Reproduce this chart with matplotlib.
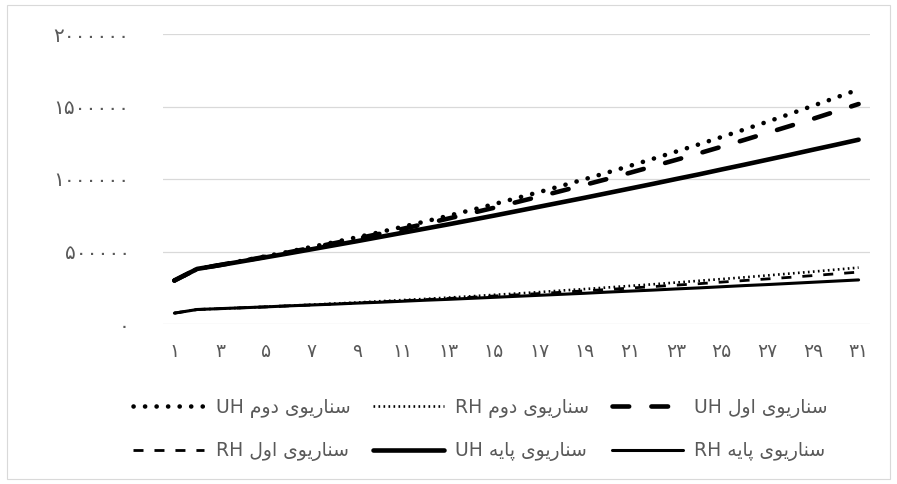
import matplotlib
matplotlib.use("Agg")
import matplotlib.pyplot as plt
from matplotlib.patches import Rectangle

plt.rcParams['font.family'] = ['DejaVu Sans']
plt.rcParams['lines.scale_dashes'] = False

# ---------------- data ----------------
years = list(range(1, 32))
x_tick_pos = list(range(1, 32, 2))
x_tick_labels = ["۱", "۳", "۵", "۷", "۹", "۱۱", "۱۳", "۱۵", "۱۷", "۱۹", "۲۱",
                 "۲۳", "۲۵", "۲۷", "۲۹", "۳۱"]
y_ticks = [0, 500000, 1000000, 1500000, 2000000]
y_tick_labels = ["۰", "۵۰۰۰۰۰", "۱۰۰۰۰۰۰", "۱۵۰۰۰۰۰", "۲۰۰۰۰۰۰"]

uh_base = [300, 380, 406, 433, 460, 487, 515, 543, 571, 600, 629, 658, 687, 717, 747, 778,
           809, 840, 871, 903, 935, 967, 1000, 1032, 1066, 1099, 1133, 1167, 1202, 1236, 1271]
uh_s1 = [300, 380, 407, 435, 464, 494, 525, 557, 589, 622, 656, 691, 727, 764, 801, 840,
         879, 919, 960, 1001, 1044, 1088, 1132, 1177, 1223, 1270, 1318, 1366, 1415, 1466, 1517]
uh_s2 = [300, 380, 408, 437, 467, 498, 531, 564, 598, 633, 670, 707, 746, 785, 826, 868,
         910, 954, 999, 1045, 1092, 1140, 1189, 1239, 1290, 1342, 1395, 1449, 1505, 1561, 1618]
rh_base = [75, 100, 106, 112, 118, 125, 131, 137, 144, 150, 157, 164, 170, 177, 184, 191,
           198, 205, 212, 220, 227, 234, 242, 249, 257, 265, 272, 280, 288, 296, 304]
rh_s1 = [75, 100, 106, 112, 118, 125, 131, 138, 145, 153, 160, 168, 176, 184, 193, 201,
         210, 219, 229, 238, 248, 258, 268, 278, 289, 300, 311, 322, 334, 346, 358]
rh_s2 = [75, 100, 106, 112, 119, 126, 133, 141, 148, 157, 165, 173, 182, 191, 201, 210,
         220, 231, 241, 252, 263, 274, 286, 298, 310, 322, 335, 348, 361, 375, 389]
unit = 1000

label_uh_base = "سناریوی پایه UH"
label_uh_s1 = "سناریوی اول UH"
label_uh_s2 = "سناریوی دوم UH"
label_rh_base = "سناریوی پایه RH"
label_rh_s1 = "سناریوی اول RH"
label_rh_s2 = "سناریوی دوم RH"

# -------- minimal Persian shaping (matplotlib has no complex text layout) --------
FORMS = {
    'س': ('\uFEB1', '\uFEB2', '\uFEB3', '\uFEB4'),
    'ن': ('\uFEE5', '\uFEE6', '\uFEE7', '\uFEE8'),
    'ا': ('\uFE8D', '\uFE8E', None, None),
    'ر': ('\uFEAD', '\uFEAE', None, None),
    'ی': ('\uFBFC', '\uFBFD', '\uFBFE', '\uFBFF'),
    'و': ('\uFEED', '\uFEEE', None, None),
    'ل': ('\uFEDD', '\uFEDE', '\uFEDF', '\uFEE0'),
    'د': ('\uFEA9', '\uFEAA', None, None),
    'م': ('\uFEE1', '\uFEE2', '\uFEE3', '\uFEE4'),
    'پ': ('\uFB56', '\uFB57', '\uFB58', '\uFB59'),
    'ه': ('\uFEE9', '\uFEEA', '\uFEEB', '\uFEEC'),
}


def shape_word(w):
    out = []
    for i, c in enumerate(w):
        f = FORMS.get(c)
        if f is None:
            out.append(c)
            continue
        prev = w[i - 1] if i > 0 else None
        nxt = w[i + 1] if i + 1 < len(w) else None
        jp = prev in FORMS and FORMS[prev][2] is not None
        jn = f[2] is not None and nxt in FORMS
        if jp and jn:
            out.append(f[3])
        elif jp:
            out.append(f[1])
        elif jn:
            out.append(f[2])
        else:
            out.append(f[0])
    return ''.join(out)


def rtl(text):
    vis = []
    for w in text.split(' '):
        if any(c in FORMS for c in w):
            vis.append(shape_word(w)[::-1])
        else:
            vis.append(w)
    return ' '.join(reversed(vis))


# ---------------- figure ----------------
W, H = 897, 484
fig = plt.figure(figsize=(W / 100, H / 100), dpi=100)
fig.patches.append(Rectangle((7 / W, 1 - 479 / H), 883 / W, 474 / H, transform=fig.transFigure,
                             fill=False, edgecolor='#d9d9d9', linewidth=0.8))

ax = fig.add_axes([163 / W, 1 - 324 / H, 707 / W, 290 / H])

def sc(vals):
    return [v * unit for v in vals]

l_rh_base, = ax.plot(years, sc(rh_base), color='black', lw=2.2, solid_capstyle='round')
l_rh_s1, = ax.plot(years, sc(rh_s1), color='black', lw=2.0, dashes=(7.2, 7.9),
                   dash_capstyle='butt')
l_rh_s2, = ax.plot(years, sc(rh_s2), color='black', lw=1.9, dashes=(1.2, 2.4),
                   dash_capstyle='butt')
l_uh_base, = ax.plot(years, sc(uh_base), color='black', lw=3.3, solid_capstyle='round')
l_uh_s1, = ax.plot(years, sc(uh_s1), color='black', lw=3.3, dashes=(12.0, 16.0),
                   dash_capstyle='round')
l_uh_s2, = ax.plot(years, sc(uh_s2), color='black', lw=3.3, dashes=(0.1, 8.2),
                   dash_capstyle='round')

ax.set_xlim(0.5, 31.5)
ax.set_ylim(0, 2000000)
ax.set_yticks(y_ticks)
ax.set_yticklabels(y_tick_labels)
ax.set_xticks(x_tick_pos)
ax.set_xticklabels(x_tick_labels)
ax.tick_params(axis='both', length=0, colors='#595959')
ax.tick_params(axis='y', pad=24, labelsize=14.5)
ax.tick_params(axis='x', pad=13, labelsize=13.5)
for s in ax.spines.values():
    s.set_visible(False)
ax.yaxis.grid(True, color='#d9d9d9', linewidth=0.9)
ax.xaxis.grid(False)
ax.set_axisbelow(True)

handles = [l_uh_s2, l_rh_s1, l_rh_s2, l_uh_base, l_uh_s1, l_rh_base]
labels = [rtl(t) for t in [label_uh_s2, label_rh_s1, label_rh_s2, label_uh_base,
                           label_uh_s1, label_rh_base]]
leg = fig.legend(handles, labels, ncol=3, loc='upper left',
                 bbox_to_anchor=(133 / W, 1 - 398 / H), frameon=False, fontsize=13.5,
                 handlelength=3.8, handletextpad=0.6, columnspacing=1.2,
                 labelspacing=1.25, borderpad=0, borderaxespad=0)
for t in leg.get_texts():
    t.set_color('#595959')

fig.savefig('out.png', dpi=100)
